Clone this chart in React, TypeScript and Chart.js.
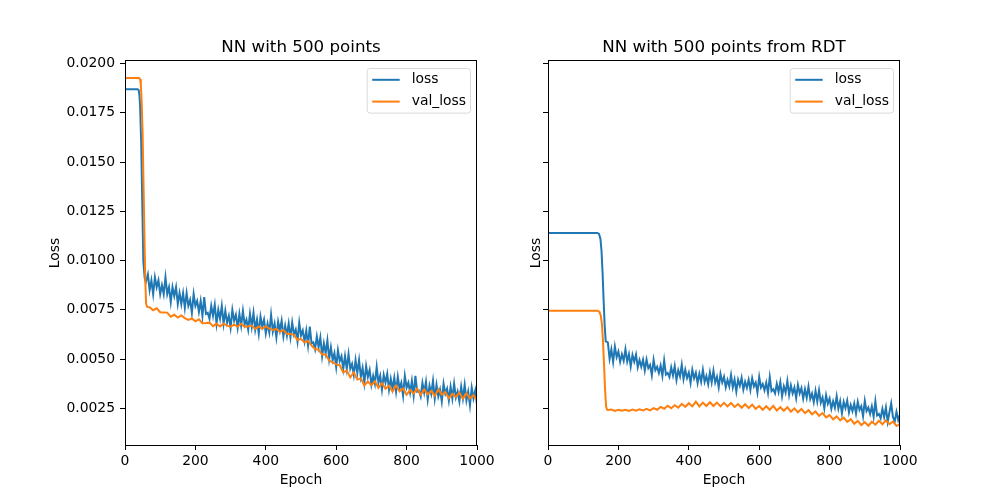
import React, { useEffect, useRef } from "react";
import { Chart, registerables } from "chart.js";

Chart.register(...registerables);

const BLUE = "#1f77b4";
const ORANGE = "#ff7f0e";
const FONT = '"DejaVu Sans", sans-serif';

// ---------- axes ----------
const xTickValues = [0, 200, 400, 600, 800, 1000];
const yTickValues = [0.0025, 0.005, 0.0075, 0.01, 0.0125, 0.015, 0.0175, 0.02];
const X_MIN = 0;
const X_MAX = 1000;
const Y_MIN = 0.00064;
const Y_MAX = 0.02013;

const titles = ["NN with 500 points", "NN with 500 points from RDT"];
const xLabel = "Epoch";
const yLabel = "Loss";
const seriesNames = ["loss", "val_loss"];

// ---------- left panel: NN with 500 points ----------
const leftLossHeadEpochs = [0, 36, 39, 41, 43, 46, 49, 52, 56, 59];
const leftLossHead = [0.0187, 0.0187, 0.01865, 0.0184, 0.0178, 0.016, 0.013, 0.01, 0.0091, 0.0089];
const leftLossTailStart = 65;
const leftLossTailStep = 5;
const leftLossTail = [
  0.0093, 0.0085, 0.009, 0.0083, 0.00915, 0.00865, 0.009, 0.0083, 0.00875, 0.0083,
  0.00915, 0.0083, 0.00865, 0.0079, 0.00865, 0.0082, 0.00865, 0.0078, 0.00835, 0.0078,
  0.00835, 0.0076, 0.00835, 0.0077, 0.008, 0.00735, 0.0083, 0.0077, 0.00795, 0.0074,
  0.00795, 0.0072, 0.00815, 0.0073, 0.00735, 0.00705, 0.0077, 0.0072, 0.00775, 0.0068,
  0.0075, 0.00705, 0.0077, 0.0068, 0.00745, 0.00685, 0.0072, 0.0066, 0.0075, 0.00695,
  0.00725, 0.0066, 0.0073, 0.0067, 0.00745, 0.00675, 0.007, 0.0065, 0.0073, 0.00665,
  0.00735, 0.0065, 0.007, 0.0063, 0.00715, 0.00665, 0.007, 0.0063, 0.0068, 0.00635,
  0.00725, 0.0064, 0.0068, 0.0061, 0.0069, 0.00645, 0.00695, 0.00615, 0.0067, 0.0062,
  0.0068, 0.0061, 0.00685, 0.00625, 0.0065, 0.0059, 0.00685, 0.0062, 0.00645, 0.0059,
  0.00645, 0.0057, 0.00665, 0.0058, 0.00585, 0.0055, 0.00615, 0.0056, 0.0061, 0.00515,
  0.0058, 0.0053, 0.00595, 0.005, 0.0056, 0.00495, 0.0053, 0.0046, 0.00545, 0.0049,
  0.00515, 0.0045, 0.00515, 0.0045, 0.00525, 0.0045, 0.00475, 0.0042, 0.00495, 0.0043,
  0.00495, 0.0041, 0.00455, 0.0038, 0.00465, 0.0041, 0.00445, 0.0037, 0.00415, 0.00375,
  0.0046, 0.0038, 0.00415, 0.00345, 0.0042, 0.0038, 0.00425, 0.00345, 0.004, 0.0035,
  0.00405, 0.00335, 0.0041, 0.0035, 0.0038, 0.00315, 0.00415, 0.00355, 0.0038, 0.0033,
  0.0039, 0.00315, 0.00415, 0.00335, 0.0034, 0.0031, 0.0038, 0.0033, 0.00385, 0.00295,
  0.00365, 0.00325, 0.0039, 0.003, 0.0037, 0.0031, 0.00345, 0.00285, 0.00375, 0.00325,
  0.0035, 0.0029, 0.0036, 0.003, 0.00375, 0.00305, 0.00335, 0.00285, 0.0036, 0.003,
  0.0037, 0.0029, 0.00335, 0.00265, 0.00355, 0.003, 0.0034, 0.0027,
];

const leftValHeadEpochs = [0, 40, 43, 45, 47, 50, 53, 56, 58, 60, 63];
const leftValHead = [0.01927, 0.01927, 0.0192, 0.0189, 0.0182, 0.0165, 0.0135, 0.0105, 0.0088, 0.0078, 0.00765];
const leftValTailStart = 70;
const leftValTailStep = 10;
const leftValTail = [
  0.00763, 0.00748, 0.00758, 0.00738, 0.00737, 0.00736, 0.00715, 0.00725, 0.00711, 0.00722,
  0.00708, 0.00699, 0.00706, 0.00692, 0.00702, 0.00682, 0.00683, 0.00685, 0.00667, 0.00679,
  0.00666, 0.0068, 0.0067, 0.00665, 0.00675, 0.00665, 0.00679, 0.00663, 0.00666, 0.0067,
  0.00653, 0.00666, 0.00654, 0.00667, 0.00655, 0.00648, 0.00653, 0.00638, 0.00648, 0.00628,
  0.00628, 0.00623, 0.00598, 0.00602, 0.00585, 0.00592, 0.00569, 0.00551, 0.00548, 0.00523,
  0.00523, 0.00493, 0.00483, 0.00473, 0.00469, 0.00433, 0.00442, 0.00407, 0.00432, 0.00396,
  0.00402, 0.00366, 0.00386, 0.00367, 0.00388, 0.00354, 0.00379, 0.0035, 0.00365, 0.00335,
  0.00366, 0.00337, 0.00351, 0.00319, 0.00343, 0.00326, 0.0035, 0.00319, 0.00347, 0.00321,
  0.00339, 0.00313, 0.00346, 0.0032, 0.00333, 0.00301, 0.00324, 0.00307, 0.0033, 0.00298,
  0.00326, 0.003, 0.00318, 0.00291,
];

// ---------- right panel: NN with 500 points from RDT ----------
const rightLossHeadEpochs = [0, 140, 145, 149, 152, 155, 158, 161, 164];
const rightLossHead = [0.0114, 0.0114, 0.01135, 0.0111, 0.0105, 0.0094, 0.008, 0.0067, 0.0059];
const rightLossTailStart = 170;
const rightLossTailStep = 5;
const rightLossTail = [
  0.00585, 0.00502, 0.00549, 0.00486, 0.00563, 0.0051, 0.00538, 0.00486, 0.00524, 0.00492,
  0.0055, 0.00488, 0.00525, 0.00463, 0.00521, 0.00487, 0.00523, 0.00459, 0.00495, 0.00461,
  0.00497, 0.00442, 0.00498, 0.00454, 0.0047, 0.00418, 0.00496, 0.00444, 0.00461, 0.00429,
  0.00467, 0.00415, 0.00493, 0.00421, 0.0043, 0.00409, 0.00458, 0.00417, 0.00465, 0.00394,
  0.00443, 0.00412, 0.00471, 0.00399, 0.00446, 0.00404, 0.00431, 0.00379, 0.00446, 0.00403,
  0.00431, 0.00378, 0.00426, 0.00385, 0.00445, 0.00384, 0.00414, 0.00373, 0.00432, 0.00382,
  0.00441, 0.00381, 0.0041, 0.00357, 0.00425, 0.00382, 0.0041, 0.00357, 0.00394, 0.00362,
  0.00419, 0.00356, 0.00396, 0.00336, 0.00396, 0.00365, 0.00405, 0.00345, 0.00385, 0.00355,
  0.00395, 0.00344, 0.00403, 0.00362, 0.00381, 0.0033, 0.00409, 0.00356, 0.00374, 0.00342,
  0.0038, 0.00329, 0.00408, 0.00338, 0.00347, 0.00326, 0.00375, 0.00334, 0.00383, 0.00312,
  0.00361, 0.0033, 0.00389, 0.00318, 0.00367, 0.00326, 0.00355, 0.00302, 0.00369, 0.00326,
  0.00353, 0.003, 0.00347, 0.00304, 0.00361, 0.00298, 0.00325, 0.00282, 0.00339, 0.00285,
  0.00342, 0.00279, 0.00305, 0.00251, 0.00317, 0.00274, 0.003, 0.00248, 0.00286, 0.00253,
  0.00311, 0.00249, 0.00287, 0.00225, 0.00283, 0.00252, 0.0029, 0.00229, 0.00267, 0.00236,
  0.00275, 0.00224, 0.00283, 0.00242, 0.00261, 0.0021, 0.00288, 0.00236, 0.00254, 0.00222,
  0.0026, 0.00208, 0.00286, 0.00214, 0.00222, 0.002, 0.00248, 0.00206, 0.00254, 0.00182,
  0.0023, 0.00275, 0.00206, 0.00184, 0.00232, 0.0019, 0.00218,
];

const rightValHeadEpochs = [0, 140, 146, 150, 153, 156, 159, 162, 165, 168];
const rightValHead = [0.00746, 0.00746, 0.0074, 0.0072, 0.0068, 0.006, 0.0048, 0.0035, 0.0026, 0.00243];
const rightValTailStart = 170;
const rightValTailStep = 10;
const rightValTail = [
  0.00242, 0.00244, 0.00237, 0.00243, 0.00238, 0.00243, 0.00237, 0.00244, 0.00238, 0.00245,
  0.00239, 0.00248, 0.0024, 0.00251, 0.00243, 0.00257, 0.00248, 0.00263, 0.00251, 0.00266,
  0.00253, 0.00273, 0.00258, 0.00276, 0.0026, 0.00284, 0.0026, 0.00279, 0.00262, 0.00281,
  0.00262, 0.00279, 0.0026, 0.00278, 0.0026, 0.00277, 0.00257, 0.00272, 0.00253, 0.00271,
  0.00252, 0.00269, 0.00248, 0.00262, 0.00243, 0.00261, 0.00243, 0.00263, 0.00239, 0.00256,
  0.00238, 0.00256, 0.00233, 0.0025, 0.0023, 0.00247, 0.00226, 0.00241, 0.0022, 0.00234,
  0.00212, 0.00226, 0.00204, 0.00216, 0.00194, 0.00209, 0.00189, 0.00203, 0.00181, 0.00195,
  0.00172, 0.00186, 0.00165, 0.0018, 0.00162, 0.00182, 0.00167, 0.00187, 0.00169, 0.00189,
  0.0017, 0.00183, 0.00161, 0.00168,
];

type Pt = { x: number; y: number };

function buildSeries(headX: number[], headY: number[], tailStart: number, tailStep: number, tailY: number[]): Pt[] {
  const pts: Pt[] = headX.map((x, i) => ({ x, y: headY[i] }));
  tailY.forEach((y, i) => pts.push({ x: tailStart + i * tailStep, y }));
  return pts;
}

type PanelCfg = {
  title: string;
  loss: Pt[];
  val: Pt[];
  showYLabels: boolean;
  yAxisWidth: number;
  padRight: number;
  yLabelOffset: number;
};

function makeChart(canvas: HTMLCanvasElement, cfg: PanelCfg) {
  const decor = {
    id: "decor",
    afterDraw(chart: any) {
      const ctx: CanvasRenderingContext2D = chart.ctx;
      const a = chart.chartArea;
      const cx = (a.left + a.right) / 2;
      const cy = (a.top + a.bottom) / 2;
      ctx.save();
      // spines
      ctx.strokeStyle = "#000";
      ctx.lineWidth = 1;
      ctx.strokeRect(a.left + 0.5, a.top - 0.5, a.right - a.left - 1, a.bottom - a.top + 1);
      // title
      ctx.fillStyle = "#000";
      ctx.font = `16.7px ${FONT}`;
      ctx.textAlign = "center";
      ctx.textBaseline = "alphabetic";
      ctx.fillText(cfg.title, cx, 52);
      // x label
      ctx.font = `13.9px ${FONT}`;
      ctx.textBaseline = "middle";
      ctx.fillText(xLabel, cx, 480);
      // y label
      ctx.save();
      ctx.translate(a.left - cfg.yLabelOffset, cy);
      ctx.rotate(-Math.PI / 2);
      ctx.fillText(yLabel, 0, 0);
      ctx.restore();
      // legend
      const w = 103.3;
      const h = 44.6;
      const lx = a.right - 7 - w;
      const ly = a.top + 7;
      ctx.beginPath();
      if ((ctx as any).roundRect) (ctx as any).roundRect(lx + 0.5, ly + 0.5, w, h, 3);
      else ctx.rect(lx + 0.5, ly + 0.5, w, h);
      ctx.fillStyle = "rgba(255,255,255,0.8)";
      ctx.fill();
      ctx.strokeStyle = "#d9d9d9";
      ctx.lineWidth = 1;
      ctx.stroke();
      const rows = [
        { label: seriesNames[0], color: BLUE, y: ly + 11.8 },
        { label: seriesNames[1], color: ORANGE, y: ly + 33.6 },
      ];
      rows.forEach((r) => {
        ctx.strokeStyle = r.color;
        ctx.lineWidth = 2;
        ctx.beginPath();
        ctx.moveTo(lx + 5.5, r.y);
        ctx.lineTo(lx + 33, r.y);
        ctx.stroke();
        ctx.fillStyle = "#000";
        ctx.font = `13.9px ${FONT}`;
        ctx.textAlign = "left";
        ctx.textBaseline = "middle";
        ctx.fillText(r.label, lx + 45, r.y);
      });
      ctx.restore();
    },
  };

  const gridOpts = {
    display: true,
    drawOnChartArea: false,
    drawTicks: true,
    tickLength: 5,
    tickColor: "#000",
    tickWidth: 1,
  };

  return new Chart(canvas, {
    type: "line",
    data: {
      datasets: [
        {
          label: seriesNames[1],
          data: cfg.val,
          borderColor: ORANGE,
          backgroundColor: ORANGE,
          borderWidth: 2,
          pointRadius: 0,
          tension: 0,
          fill: false,
          order: 0,
        },
        {
          label: seriesNames[0],
          data: cfg.loss,
          borderColor: BLUE,
          backgroundColor: BLUE,
          borderWidth: 2,
          pointRadius: 0,
          tension: 0,
          fill: false,
          order: 1,
        },
      ],
    },
    options: {
      animation: false,
      responsive: false,
      events: [],
      parsing: false as any,
      normalized: true,
      layout: { padding: { left: 0, top: 61, right: cfg.padRight, bottom: 0 } },
      plugins: {
        legend: { display: false },
        title: { display: false },
        tooltip: { enabled: false },
      },
      scales: {
        x: {
          type: "linear",
          min: X_MIN,
          max: X_MAX,
          afterBuildTicks: (s: any) => {
            s.ticks = xTickValues.map((v) => ({ value: v }));
          },
          afterFit: (s: any) => {
            s.height = 55;
          },
          grid: gridOpts,
          border: { display: false },
          ticks: {
            color: "#000",
            font: { family: FONT, size: 13.9 },
            padding: 3,
            maxRotation: 0,
            autoSkip: false,
            callback: (v: any) => String(v),
          },
        },
        y: {
          type: "linear",
          min: Y_MIN,
          max: Y_MAX,
          afterBuildTicks: (s: any) => {
            s.ticks = yTickValues.map((v) => ({ value: v }));
          },
          afterFit: (s: any) => {
            s.width = cfg.yAxisWidth;
          },
          grid: gridOpts,
          border: { display: false },
          ticks: {
            color: "#000",
            font: { family: FONT, size: 13.9 },
            padding: 5,
            autoSkip: false,
            callback: (v: any) => (cfg.showYLabels ? Number(v).toFixed(4) : ""),
          },
        },
      },
    } as any,
    plugins: [decor],
  });
}

export default function App() {
  const leftRef = useRef<HTMLCanvasElement>(null);
  const rightRef = useRef<HTMLCanvasElement>(null);

  useEffect(() => {
    const left = makeChart(leftRef.current as HTMLCanvasElement, {
      title: titles[0],
      loss: buildSeries(leftLossHeadEpochs, leftLossHead, leftLossTailStart, leftLossTailStep, leftLossTail),
      val: buildSeries(leftValHeadEpochs, leftValHead, leftValTailStart, leftValTailStep, leftValTail),
      showYLabels: true,
      yAxisWidth: 125,
      padRight: 23,
      yLabelOffset: 70,
    });
    const right = makeChart(rightRef.current as HTMLCanvasElement, {
      title: titles[1],
      loss: buildSeries(rightLossHeadEpochs, rightLossHead, rightLossTailStart, rightLossTailStep, rightLossTail),
      val: buildSeries(rightValHeadEpochs, rightValHead, rightValTailStart, rightValTailStep, rightValTail),
      showYLabels: false,
      yAxisWidth: 48,
      padRight: 100,
      yLabelOffset: 12,
    });
    return () => {
      left.destroy();
      right.destroy();
    };
  }, []);

  return (
    <div style={{ position: "fixed", left: 0, top: 0, width: 1000, height: 500, background: "#fff" }}>
      <canvas
        ref={leftRef}
        width={500}
        height={500}
        style={{ position: "absolute", left: 0, top: 0, width: 500, height: 500 }}
      />
      <canvas
        ref={rightRef}
        width={500}
        height={500}
        style={{ position: "absolute", left: 500, top: 0, width: 500, height: 500 }}
      />
    </div>
  );
}
